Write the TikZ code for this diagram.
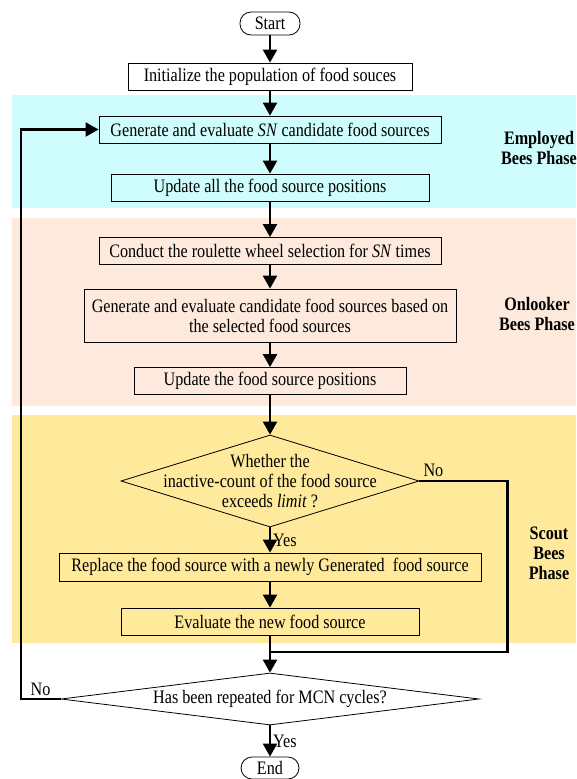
\documentclass[tikz,border=0pt]{standalone}
\usepackage{fontspec}
\setmainfont[FakeStretch=0.85]{Liberation Serif}
\usetikzlibrary{arrows.meta,shapes.geometric,positioning,calc}
\definecolor{employedbg}{RGB}{207,252,252}
\definecolor{onlookerbg}{RGB}{253,234,221}
\definecolor{scoutbg}{RGB}{255,233,155}

\begin{document}
\begin{tikzpicture}[x=1pt,y=-1pt,
every node/.style={font=\fontsize{19}{20}\selectfont},
proc/.style={draw,line width=0.8pt,minimum height=27pt,inner sep=0pt,align=center},
term/.style={draw,line width=0.8pt,rounded corners=11pt,minimum width=60pt,minimum height=23pt,inner sep=0pt},
decision/.style={draw,line width=0.8pt,diamond,inner sep=0pt},
phase/.style={font=\fontsize{19}{20}\selectfont\bfseries,align=center},
flow/.style={line width=2.2pt,-{Triangle[length=13pt,width=14pt]}}]
\useasboundingbox (0,0) rectangle (576,779);
\fill[employedbg] (12,95) rectangle (576,208);
\fill[onlookerbg] (12,218) rectangle (576,406);
\fill[scoutbg] (12,415) rectangle (576,643);

\node[term] (start) at (270,23.5) {Start};
\node[proc,minimum width=284pt] (init) at (270,76.5) {Initialize the population of food souces};
\node[proc,minimum width=342pt] (gen) at (270,129.5) {Generate and evaluate \textit{SN} candidate food sources};
\node[proc,minimum width=318pt] (update) at (270,187.5) {Update all the food source positions};
\node[proc,minimum width=342pt] (roulette) at (270,251) {Conduct the roulette wheel selection for \textit{SN} times};
\node[proc,minimum width=372pt,minimum height=53pt] (onlook) at (270,315.5) {Generate and evaluate candidate food sources based on\\the selected food sources};
\node[proc,minimum width=272pt] (position) at (270,381) {Update the food source positions};
\node[decision,minimum width=298pt,minimum height=92pt] (inactive) at (270,481) {};
\node[align=center] (inactivetext) at (inactive) {Whether the\\inactive-count of the food source\\exceeds \textit{limit} ?};
\node[proc,minimum width=422pt,minimum height=28pt] (replace) at (270,567) {Replace the food source with a newly Generated\ \ food source};
\node[proc,minimum width=298pt] (evaluate) at (270,621.5) {Evaluate the new food source};
\node[decision,minimum width=418pt,minimum height=52pt] (repeat) at (270,699) {};
\node (repeattext) at (repeat) {Has been repeated for MCN cycles?};
\node[term,minimum width=58pt,minimum height=22pt] (end) at (270,768) {End};

\node[phase] (employed) at (539,147.5) {Employed\\Bees Phase};
\node[phase] (onlooker) at (537,314) {Onlooker\\Bees Phase};
\node[phase] (scout) at (549,553.5) {Scout\\Bees\\Phase};

\coordinate (join) at (270,652);
\path[flow]
(start) edge (init)
(init) edge (gen)
(gen) edge (update)
(update) edge (roulette)
(roulette) edge (onlook)
(onlook) edge (position)
(position) edge (inactive)
(inactive) edge node[right,inner sep=2pt] {Yes} (replace)
(replace) edge (evaluate)
(evaluate) edge (repeat)
(repeat) edge node[right,inner sep=2pt] {Yes} (end)
;
\draw[line width=2.2pt] (inactive.east) -- node[pos=0,anchor=south west,inner sep=3pt] {No} ++(88,0) |- (join);
\draw[flow] (repeat.west) -- node[above,inner sep=2pt] {No} ++(-40,0) |- (gen.west);
\end{tikzpicture}
\end{document}
